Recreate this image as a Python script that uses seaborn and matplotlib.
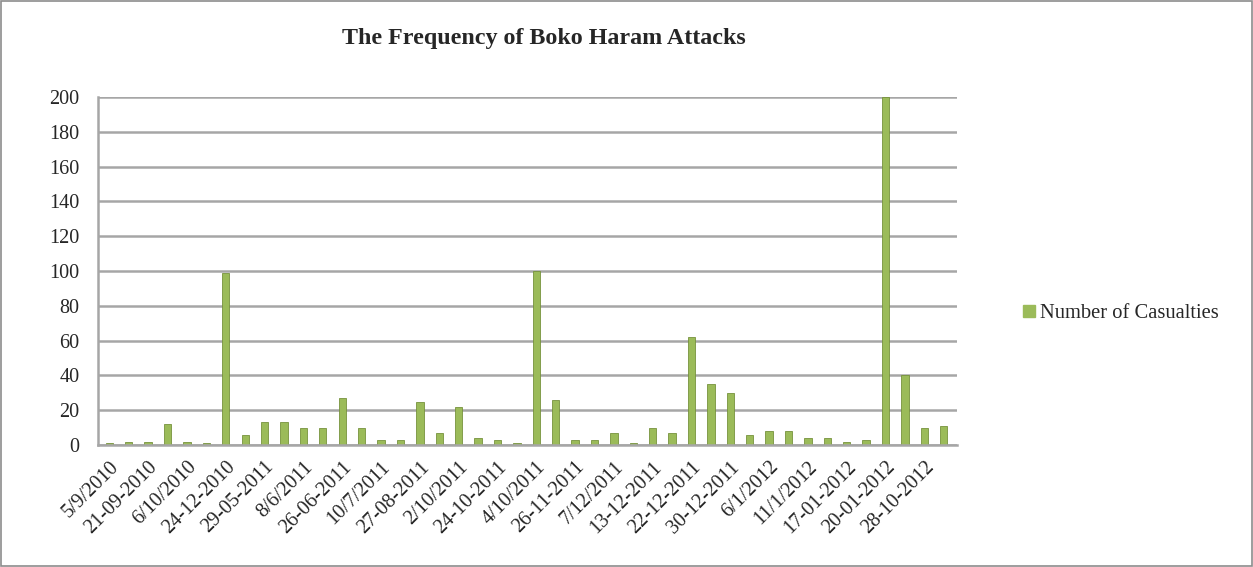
import seaborn as sns
import pandas as pd
import matplotlib.pyplot as plt
from matplotlib.patches import Rectangle

# casualties per attack (44 bars, every second one labelled)
casualties = [1, 2, 2, 12, 2, 1, 99, 6, 13, 13, 10, 10, 27, 10, 3, 3, 25, 7, 22, 4,
              3, 1, 100, 26, 3, 3, 7, 1, 10, 7, 62, 35, 30, 6, 8, 8, 4, 4, 2, 3,
              200, 40, 10, 11]
tick_labels = ['5/9/2010', '21-09-2010', '6/10/2010', '24-12-2010', '29-05-2011',
               '8/6/2011', '26-06-2011', '10/7/2011', '27-08-2011', '2/10/2011',
               '24-10-2011', '4/10/2011', '26-11-2011', '7/12/2011', '13-12-2011',
               '22-12-2011', '30-12-2011', '6/1/2012', '11/1/2012', '17-01-2012',
               '20-01-2012', '28-10-2012']
y_ticks = list(range(0, 201, 20))


def main():
	sns.set_theme(style='white')
	plt.rcParams['font.family'] = ['Liberation Serif', 'DejaVu Serif']

	df = pd.DataFrame({'attack': range(len(casualties)), 'casualties': casualties})

	fig = plt.figure(figsize=(12.53, 5.67), dpi=100)
	ax = fig.add_axes([0.078, 0.215, 0.686, 0.614])

	# horizontal gridlines drawn like the Excel walls
	for y in y_ticks:
		ax.axhline(y, color='#a6a6a6', lw=1.8, zorder=0)

	sns.barplot(data=df, x='attack', y='casualties', color='#9bbb59',
	            width=0.38, edgecolor='#76923c', linewidth=0.6, saturation=1,
	            ax=ax, zorder=2)

	ax.set_ylim(0, 200)
	ax.set_xlim(-0.6, len(casualties) - 0.3)
	ax.set_yticks(y_ticks)
	ax.set_yticklabels([str(v) for v in y_ticks], fontsize=14.5)
	ax.set_xticks(range(0, len(casualties), 2))
	ax.set_xticklabels(tick_labels, rotation=45, ha='right', rotation_mode='anchor',
	                   fontsize=14.5)
	ax.tick_params(axis='x', pad=9, length=0)
	ax.tick_params(axis='y', pad=13, length=0)
	ax.set_xlabel('')
	ax.set_ylabel('')
	for side in ['top', 'right']:
		ax.spines[side].set_visible(False)
	for side in ['left', 'bottom']:
		ax.spines[side].set_color('#a6a6a6')
		ax.spines[side].set_linewidth(1.8)

	fig.text(0.434, 0.932, 'The Frequency of Boko Haram Attacks', ha='center',
	         va='center', fontsize=17.3, fontweight='bold')

	handle = Rectangle((0, 0), 1, 1, facecolor='#9bbb59', edgecolor='#9bbb59')
	fig.legend([handle], ['Number of Casualties'], loc='center left',
	           bbox_to_anchor=(0.802, 0.447), frameon=False, fontsize=14.8,
	           handlelength=0.55, handleheight=0.55, handletextpad=0.25)

	# thin grey frame round the whole chart
	fig.patches.append(Rectangle((0.001, 0.001), 0.998, 0.998, transform=fig.transFigure,
	                             fill=False, edgecolor='#8c8c8c', lw=1.2))

	fig.savefig('out.png', dpi=100)


if __name__ == '__main__':
	main()
